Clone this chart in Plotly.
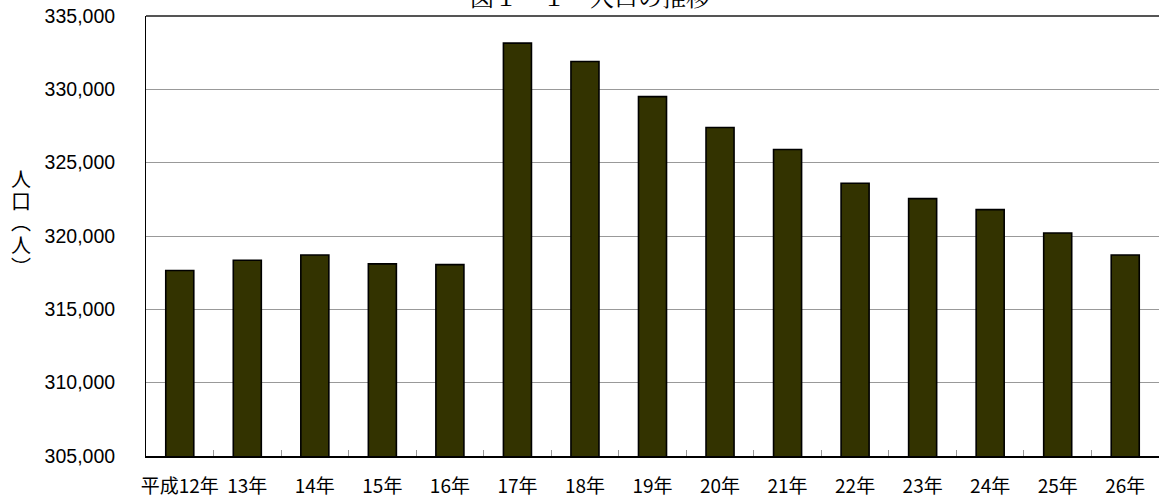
import plotly.graph_objects as go

categories = ["平成12年", "13年", "14年", "15年", "16年", "17年", "18年", "19年",
              "20年", "21年", "22年", "23年", "24年", "25年", "26年"]
population = [317650, 318350, 318700, 318100, 318050, 333150, 331900, 329500,
              327400, 325900, 323600, 322550, 321800, 320200, 318700]
y_ticks = [305000, 310000, 315000, 320000, 325000, 330000, 335000]
y_tick_labels = [f"{v:,}" for v in y_ticks]
title_text = "図１－１　人口の推移"
y_label_chars = ["人", "口", "︵", "人", "︶"]

W, H = 1159, 502
ML, MT, MB, MR = 146, 16, 46, 0
PW, PH = W - ML - MR, H - MT - MB

fig = go.Figure()
fig.add_trace(go.Bar(
    x=categories, y=population,
    marker=dict(color="#333300", line=dict(color="#000000", width=1.6)),
    hoverinfo="x+y",
))

fig.update_layout(
    width=W, height=H,
    margin=dict(l=ML, r=MR, t=MT, b=MB, pad=0, autoexpand=False),
    paper_bgcolor="white", plot_bgcolor="white",
    showlegend=False,
    bargap=0.585,
    font=dict(family="Noto Sans CJK JP, Liberation Sans", color="#000000"),
    xaxis=dict(
        type="category",
        automargin=False,
        tickangle=0,
        showgrid=False,
        showline=True, linecolor="#000000", linewidth=2,
        ticks="inside", tickson="boundaries", ticklen=6, tickcolor="#999999", tickwidth=1,
        tickfont=dict(family="Noto Sans CJK JP, Liberation Sans", size=19, color="#000000"),
        ticklabelstandoff=12,
        fixedrange=True,
    ),
    yaxis=dict(
        automargin=False,
        range=[305000, 335000],
        tickvals=y_ticks, ticktext=y_tick_labels,
        showgrid=True, gridcolor="#999999", gridwidth=1,
        showline=True, linecolor="#000000", linewidth=1,
        ticks="outside", ticklen=0,
        tickfont=dict(family="Liberation Sans, Arial", size=19.5, color="#000000"),
        ticklabelstandoff=26,
        zeroline=False,
        fixedrange=True,
    ),
)

# top border of plot area
fig.add_shape(type="line", xref="paper", yref="paper", x0=0, x1=1, y0=1, y1=1,
              line=dict(color="#555555", width=2))

# title (partially clipped at top in the reference)
fig.add_annotation(
    text=title_text, xref="paper", yref="paper", x=(590 - ML) / PW, y=1,
    xanchor="center", yanchor="bottom", yshift=1, showarrow=False,
    font=dict(family="Noto Serif CJK JP, Noto Sans CJK JP", size=24, color="#000000"),
)

# vertical y-axis title, one character per line
for i, ch in enumerate(y_label_chars):
    ypix = 178 + 22 * i
    fig.add_annotation(
        text=ch, xref="paper", yref="paper",
        x=(21 - ML) / PW, y=(H - MB - ypix) / PH,
        xanchor="center", yanchor="middle", showarrow=False,
        font=dict(family="Noto Sans CJK JP", size=20, color="#000000"),
    )

fig.write_html("out.html", config={"displayModeBar": False},
               post_script="document.body.style.margin='0';")
